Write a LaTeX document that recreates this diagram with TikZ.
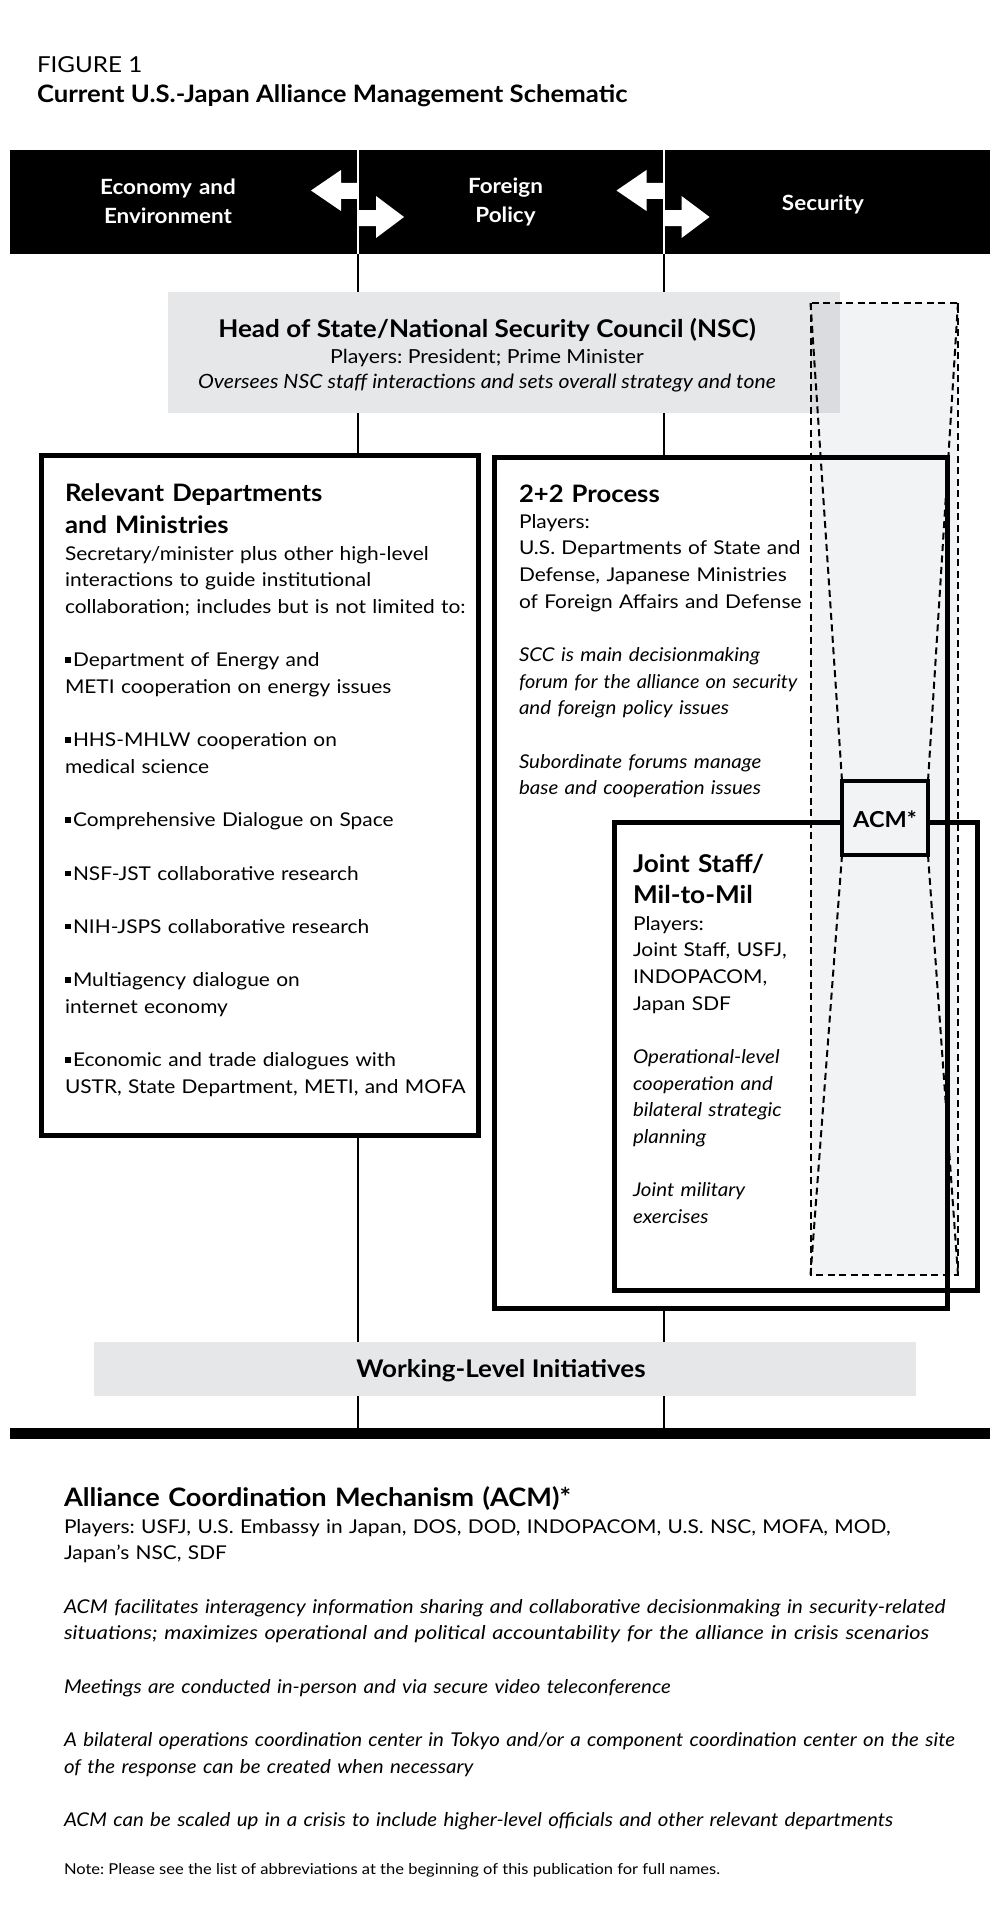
\documentclass[tikz,border=0pt]{standalone}
\usepackage{fontspec}
\usepackage{graphicx}
\setmainfont{Lato}[UprightFeatures={FakeStretch=1.10}, BoldFeatures={FakeStretch=1.07}, ItalicFeatures={FakeStretch=1.08}]
\usetikzlibrary{calc}
\definecolor{nscgray}{HTML}{E6E7E8}
\definecolor{acmfill}{HTML}{F2F3F5}
\definecolor{ovlgray}{HTML}{DBDCDF}
\newcommand{\sqb}{\rule[4pt]{5.5pt}{5.5pt}\hspace{2.5pt}}
\begin{document}
\frenchspacing
\begin{tikzpicture}[x=1pt,y=-1pt,
  thinline/.style={line width=2pt},
  boxframe/.style={draw, line width=5pt, inner sep=0pt, outer sep=0pt, anchor=north west},
  plainbox/.style={inner sep=0pt, outer sep=0pt, anchor=north west},
  dashline/.style={line width=2pt, dash pattern=on 7pt off 4.5pt},
  lbl/.style={inner sep=0pt, outer sep=0pt, anchor=base west, align=left},
  ctr/.style={inner sep=0pt, outer sep=0pt, anchor=base},
  ttl/.style={lbl, text width=#1, font=\fontsize{24}{32}\selectfont\bfseries},
  bod/.style={lbl, text width=#1, font=\fontsize{19}{26.67}\selectfont},
  bartext/.style={inner sep=0pt, anchor=base, align=center, text width=200pt, text=white, font=\fontsize{21}{29}\selectfont\bfseries},
]
\useasboundingbox (0,0) rectangle (1000,1921);
\fill[white] (0,0) rectangle (1000,1921);

% title
\node[lbl, font=\fontsize{22}{28}\selectfont] (fig) at (37,73) {FIGURE 1};
\node[lbl, font=\fontsize{24}{28}\selectfont\bfseries] (title) at (37,102.5) {Current U.S.-Japan Alliance Management Schematic};

% top bar
\node[plainbox, fill=black, minimum width=980pt, minimum height=104pt] (bar) at (10,150) {};
\coordinate (ca) at (358,0);
\coordinate (cb) at (663.5,0);
\foreach \xx in {358,663.5}{
  \draw[white, line width=2pt] (\xx,149) -- (\xx,254);
  \fill[white] (\xx,183) -- (\xx-17,183) -- (\xx-17,170) -- (\xx-47,190.5) -- (\xx-17,211) -- (\xx-17,199) -- (\xx,199) -- cycle;
  \fill[white] (\xx,210) -- (\xx+18,210) -- (\xx+18,196) -- (\xx+46,217) -- (\xx+18,238) -- (\xx+18,226) -- (\xx,226) -- cycle;
}
\node[bartext] (econ) at (168,194) {Economy and\\Environment};
\node[bartext] (forp) at (505.5,193.5) {Foreign\\Policy};
\node[bartext] (secu) at (823,211) {Security};

% NSC box
\node[plainbox, fill=nscgray, minimum width=672pt, minimum height=121pt] (nsc) at (168,292) {};

% ACM dashed region fill
\node[plainbox, fill=acmfill, minimum width=147.5pt, minimum height=972pt] (dr) at (810.5,303) {};
\fill[ovlgray] (dr.north west) rectangle (nsc.south east);

% other grey boxes and bars
\node[plainbox, fill=nscgray, minimum width=822pt, minimum height=54pt] (wl) at (94,1342) {};
\node[plainbox, fill=black, minimum width=980pt, minimum height=11pt] (bbar) at (10,1428) {};

% framed boxes
\node[boxframe, minimum width=436.5pt, minimum height=680pt] (rel) at (41.5,455.5) {};
\node[boxframe, minimum width=453.5pt, minimum height=851.5pt] (pp) at (494,457) {};
\node[boxframe, minimum width=362.5pt, minimum height=467.5pt] (js) at (614.5,822.5) {};

% connectors
\draw[thinline] (bar.south -| ca) -- (nsc.north -| ca);
\draw[thinline] (bar.south -| cb) -- (nsc.north -| cb);
\draw[thinline] (nsc.south -| ca) -- (rel.north -| ca);
\draw[thinline] (nsc.south -| cb) -- (pp.north -| cb);
\draw[thinline] (rel.south -| ca) -- (wl.north -| ca);
\draw[thinline] (pp.south -| cb) -- (wl.north -| cb);
\draw[thinline] (wl.south -| ca) -- (bbar.north -| ca);
\draw[thinline] (wl.south -| cb) -- (bbar.north -| cb);

% dashed outline and ACM box
\draw[dashline] (dr.north west) rectangle (dr.south east);
\node[plainbox, draw, line width=4pt, fill=acmfill, minimum width=86pt, minimum height=74pt] (acm) at (842,781) {};
\draw[dashline] (dr.north west) -- (acm.north west);
\draw[dashline] (dr.north east) -- (acm.north east);
\draw[dashline] (acm.south west) -- (dr.south west);
\draw[dashline] (acm.south east) -- (dr.south east);
\node[ctr, font=\fontsize{22}{28}\selectfont\bfseries] (acmT) at (885,827) {ACM*};

% NSC texts
\node[ctr, font=\fontsize{24.4}{30}\selectfont\bfseries] (nscT) at (487,337) {Head of State/National Security Council (NSC)};
\node[ctr, font=\fontsize{19.35}{26}\selectfont] (nscP) at (487,363) {Players: President; Prime Minister};
\node[ctr, font=\fontsize{19.65}{26}\selectfont\itshape] (nscO) at (487,388) {Oversees NSC staff interactions and sets overall strategy and tone};

% left box texts
\node[ttl=400pt] (relT) at (65,501) {Relevant Departments\\and Ministries};
\node[bod=430pt] (relB) at (65,560) {Secretary/minister plus other high-level\\interactions to guide institutional\\collaboration; includes but is not limited to:\\[26.67pt]\sqb Department of Energy and\\METI cooperation on energy issues\\[26.67pt]\sqb HHS-MHLW cooperation on\\medical science\\[26.67pt]\sqb Comprehensive Dialogue on Space\\[26.67pt]\sqb NSF-JST collaborative research\\[26.67pt]\sqb NIH-JSPS collaborative research\\[26.67pt]\sqb Multiagency dialogue on\\internet economy\\[26.67pt]\sqb Economic and trade dialogues with\\USTR, State Department, METI, and MOFA};

% 2+2 texts
\node[ttl=300pt] (ppT) at (519,502) {2+2 Process};
\node[bod=330pt] (ppB) at (519,528) {Players:\\U.S. Departments of State and\\Defense, Japanese Ministries\\of Foreign Affairs and Defense\\[26.67pt]\itshape SCC is main decisionmaking\\\scalebox{0.967}[1]{forum for the alliance on security}\\and foreign policy issues\\[26.67pt]Subordinate forums manage\\base and cooperation issues};

% Joint staff texts
\node[lbl, text width=220pt, font=\fontsize{24.5}{31}\selectfont\bfseries] (jsT) at (633,872) {Joint Staff/\\Mil-to-Mil};
\node[bod=220pt] (jsB) at (633,930) {Players:\\Joint Staff, USFJ,\\INDOPACOM,\\Japan SDF\\[26.67pt]\itshape Operational-level\\cooperation and\\bilateral strategic\\planning\\[26.67pt]Joint military\\exercises};

% working level
\node[ctr, font=\fontsize{24.3}{28}\selectfont\bfseries] (wlT) at (501,1377) {Working-Level Initiatives};

% bottom text
\node[lbl, text width=650pt, font=\fontsize{25.4}{30}\selectfont\bfseries] (acmH) at (64,1506) {Alliance Coordination Mechanism (ACM)*};
\node[bod=936pt] (acmB) at (64,1533) {Players: USFJ, U.S. Embassy in Japan, DOS, DOD, INDOPACOM, U.S. NSC, MOFA, MOD,\\Japan’s NSC, SDF\\[26.67pt]\itshape \scalebox{1.02}[1]{ACM facilitates interagency information sharing and collaborative decisionmaking in security-related}\\\scalebox{1.06}[1]{situations; maximizes operational and political accountability for the alliance in crisis scenarios}\\[26.67pt]Meetings are conducted in-person and via secure video teleconference\\[26.67pt]A bilateral operations coordination center in Tokyo and/or a component coordination center on the site\\of the response can be created when necessary\\[26.67pt]ACM can be scaled up in a crisis to include higher-level officials and other relevant departments};
\node[lbl, font=\fontsize{15}{18}\selectfont] (note) at (64,1874) {Note: Please see the list of abbreviations at the beginning of this publication for full names.};
\end{tikzpicture}
\end{document}
